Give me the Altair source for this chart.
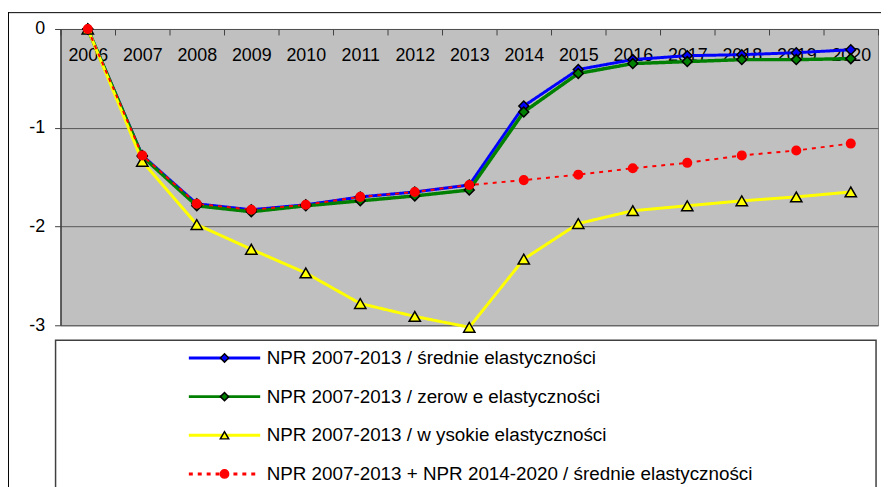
import altair as alt
import pandas as pd

# ---- data ----
years = [str(y) for y in range(2006, 2021)]

series_names = [
    "NPR 2007-2013 / średnie elastyczności",
    "NPR 2007-2013 / zerow e elastyczności",
    "NPR 2007-2013 / w ysokie elastyczności",
    "NPR 2007-2013 + NPR 2014-2020 / średnie elastyczności",
]
series_codes = ["A", "B", "C", "D"]

srednie = [0, -1.28, -1.77, -1.83, -1.78, -1.70, -1.65, -1.58, -0.78, -0.41, -0.31, -0.27, -0.26, -0.24, -0.21]
zerowe = [0, -1.29, -1.79, -1.85, -1.79, -1.74, -1.69, -1.63, -0.84, -0.45, -0.35, -0.33, -0.31, -0.31, -0.30]
wysokie = [0, -1.34, -1.98, -2.23, -2.47, -2.78, -2.91, -3.02, -2.33, -1.97, -1.84, -1.79, -1.74, -1.70, -1.65]
razem = [0, -1.28, -1.77, -1.83, -1.78, -1.70, -1.65, -1.58, -1.53, -1.475, -1.41, -1.355, -1.28, -1.23, -1.16]

line_colors = ["#0000FF", "#008000", "#FFFF00", "#FF0000"]
line_dashes = [[1, 0], [1, 0], [1, 0], [4, 5]]
line_widths = [3, 3.5, 3, 2]
marker_shapes = ["diamond", "diamond", "triangle-up", "circle"]
marker_strokes = ["#000000", "#000000", "#000000", "#FF0000"]
marker_sizes = [100, 100, 130, 75]

rows = []
for name, code, vals in zip(series_names, series_codes, [srednie, zerowe, wysokie, razem]):
    for yr, v in zip(years, vals):
        rows.append({"rok": yr, "wartosc": v, "seria": name, "kod": code})
df = pd.DataFrame(rows)

FONT = "Liberation Sans"
W, H = 825, 299

x_enc = alt.X(
    "rok:N",
    sort=years,
    scale=alt.Scale(type="band", domain=years, paddingInner=0, paddingOuter=0),
    axis=alt.Axis(
        orient="bottom", offset=-H, title=None, labelAngle=0, labelFont=FONT,
        labelFontSize=18, labelColor="#000000", tickBand="extent", tickSize=6,
        tickColor="#404040", domainColor="#505050", labelPadding=12, grid=False,
        zindex=0,
    ),
)
y_enc = alt.Y(
    "wartosc:Q",
    scale=alt.Scale(domain=[-3, 0], nice=False, zero=False),
    axis=alt.Axis(
        values=[0, -1, -2, -3], labelExpr="'' + datum.value", title=None,
        labelFont=FONT, labelFontSize=18, labelColor="#000000", tickSize=6,
        tickColor="#404040", domainColor="#404040", domainWidth=1.5,
        labelPadding=10, grid=True, gridColor="#555555", gridWidth=1, zindex=0,
    ),
)

line_legend = alt.Legend(
    orient="none", legendX=128, legendY=323, title=None, direction="vertical",
    columns=1, symbolType="stroke", symbolSize=5184, symbolStrokeWidth=3,
    clipHeight=18, rowPadding=20, labelFont=FONT, labelFontSize=19,
    labelColor="#000000", labelOffset=5, labelLimit=0, padding=0,
)
marker_legend = alt.Legend(
    orient="none", legendX=156, legendY=323, title=None, direction="vertical",
    columns=1, symbolSize=70, symbolStrokeWidth=1.5, clipHeight=18,
    rowPadding=20, labelFont=FONT, labelFontSize=19, labelColor="transparent",
    labelOffset=5, labelLimit=0, padding=0,
)

color_enc = alt.Color("seria:N", scale=alt.Scale(domain=series_names, range=line_colors), legend=line_legend)
dash_enc = alt.StrokeDash("seria:N", scale=alt.Scale(domain=series_names, range=line_dashes), legend=line_legend)
fill_enc = alt.Fill("kod:N", scale=alt.Scale(domain=series_codes, range=line_colors), legend=marker_legend)
shape_enc = alt.Shape("kod:N", scale=alt.Scale(domain=series_codes, range=marker_shapes), legend=marker_legend)
stroke_enc = alt.Stroke("kod:N", scale=alt.Scale(domain=series_codes, range=marker_strokes), legend=marker_legend)

base = alt.Chart(df)
one = alt.Data(values=[{}])

# decorations: outer frame and legend box
frame_top = alt.Chart(one).mark_rule(color="#000000", strokeWidth=1).encode(
    x=alt.value(-53), x2=alt.value(830), y=alt.value(-16.5))
frame_left = alt.Chart(one).mark_rule(color="#000000", strokeWidth=1).encode(
    x=alt.value(-52.5), y=alt.value(-17), y2=alt.value(470))
legend_box = alt.Chart(one).mark_rect(fill="#FFFFFF", stroke="#404040", strokeWidth=1.5).encode(
    x=alt.value(-5), x2=alt.value(823), y=alt.value(314), y2=alt.value(475))

lines = []
points = []
for code, sw in zip(series_codes, line_widths):
    lines.append(
        base.transform_filter(alt.datum.kod == code)
        .mark_line(strokeWidth=sw, clip=False)
        .encode(x=x_enc, y=y_enc, color=color_enc, strokeDash=dash_enc)
    )
for code, sz in zip(series_codes, marker_sizes):
    points.append(
        base.transform_filter(alt.datum.kod == code)
        .mark_point(filled=True, size=sz, strokeWidth=1.5, opacity=1)
        .encode(x=x_enc, y=y_enc, fill=fill_enc, shape=shape_enc, stroke=stroke_enc)
    )

chart = (
    alt.layer(frame_top, frame_left, legend_box, *lines, *points)
    .properties(
        width=W, height=H,
        padding={"left": 53, "top": 19, "right": 3, "bottom": 161},
        autosize=alt.AutoSizeParams(type="none"),
        background="#FFFFFF",
    )
    .configure_view(fill="#C0C0C0", stroke="#808080", strokeWidth=1)
)

chart.save("out.html", embed_options={"renderer": "svg", "actions": False})
